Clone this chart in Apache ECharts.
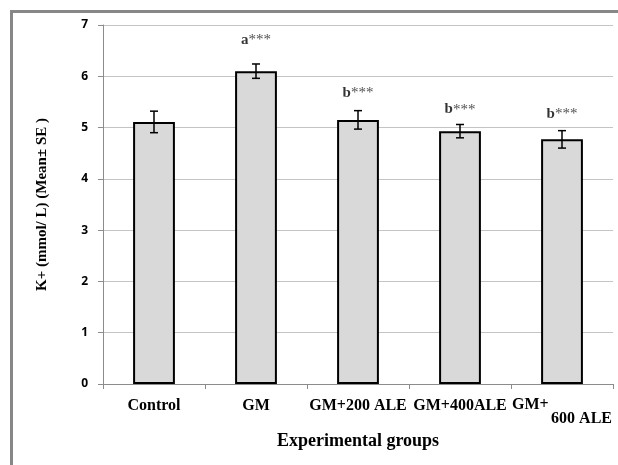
<!DOCTYPE html>
<html>
<head>
<meta charset="utf-8">
<script src="https://cdn.jsdelivr.net/npm/echarts@6/dist/echarts.min.js"></script>
<style>
html,body{margin:0;padding:0;background:#fff;}
#chart{width:618px;height:465px;}
</style>
</head>
<body>
<div id="chart"></div>
<script>
var categories = ['Control', 'GM', 'GM+200 ALE', 'GM+400ALE', 'GM+\n600 ALE'];
var meanValues = [5.11, 6.10, 5.15, 4.93, 4.77];
var seValues = [0.21, 0.14, 0.18, 0.13, 0.17];
var annotationLetter = ['', 'a', 'b', 'b', 'b'];
var annotationStars = ['', '***', '***', '***', '***'];
var annotationY = [null, 6.71, 5.68, 5.35, 5.27];
var yTicks = [0, 1, 2, 3, 4, 5, 6, 7];

var chart = echarts.init(document.getElementById('chart'), null, {renderer: 'canvas'});
var serif = '"Liberation Serif", "Times New Roman", serif';

var option = {
  animation: false,
  backgroundColor: '#ffffff',
  graphic: [{
    type: 'rect',
    shape: {x: 11.5, y: 11.5, width: 700, height: 600},
    style: {fill: 'none', stroke: '#878787', lineWidth: 3},
    silent: true,
    z: -10
  }],
  grid: {left: 103, right: 5, top: 25, bottom: 81},
  xAxis: {
    type: 'category',
    data: categories,
    boundaryGap: true,
    axisLine: {show: true, lineStyle: {color: '#8c8c8c', width: 1}},
    axisTick: {show: true, length: 5, lineStyle: {color: '#8c8c8c'}},
    axisLabel: {
      interval: 0,
      margin: 14,
      color: '#000',
      fontFamily: serif,
      fontWeight: 'bold',
      fontSize: 16,
      lineHeight: 16,
      formatter: function (v) {
        if (v.indexOf('\n') >= 0) {
          var parts = v.split('\n');
          return '{l1|' + parts[0] + '}\n{l2|' + parts[1] + '}';
        }
        return v;
      },
      rich: {
        l1: {width: 100, align: 'left', fontFamily: serif, fontWeight: 'bold', fontSize: 16, lineHeight: 14, color: '#000'},
        l2: {width: 100, align: 'right', fontFamily: serif, fontWeight: 'bold', fontSize: 16, lineHeight: 14, color: '#000'}
      }
    },
    name: 'Experimental groups',
    nameLocation: 'middle',
    nameGap: 47,
    nameTextStyle: {fontFamily: serif, fontWeight: 'bold', fontSize: 18, color: '#000'}
  },
  yAxis: {
    type: 'value',
    min: yTicks[0],
    max: yTicks[yTicks.length - 1],
    interval: 1,
    axisLine: {show: true, lineStyle: {color: '#8c8c8c', width: 1}},
    axisTick: {show: true, length: 5, lineStyle: {color: '#8c8c8c'}},
    splitLine: {show: true, lineStyle: {color: '#c4c4c4', width: 1}},
    axisLabel: {
      margin: 15,
      color: '#000',
      fontFamily: '"Open Sans", "Liberation Sans", sans-serif',
      fontWeight: 'bold',
      fontSize: 12
    },
    name: 'K+ (mmol/ L) (Mean\u00b1 SE )',
    nameLocation: 'middle',
    nameRotate: 90,
    nameGap: 53,
    nameTextStyle: {fontFamily: serif, fontWeight: 'bold', fontSize: 15, color: '#000'}
  },
  series: [
    {
      type: 'bar',
      data: meanValues,
      barWidth: '41%',
      itemStyle: {color: '#d9d9d9', borderColor: '#000', borderWidth: 2},
      z: 2
    },
    {
      type: 'custom',
      data: meanValues.map(function (m, i) { return [i, m - seValues[i], m + seValues[i]]; }),
      renderItem: function (params, api) {
        var x = api.value(0);
        var lo = api.coord([x, api.value(1)]);
        var hi = api.coord([x, api.value(2)]);
        var hw = 4;
        var st = {stroke: '#000', lineWidth: 1.5, fill: 'none'};
        return {
          type: 'group',
          children: [
            {type: 'line', shape: {x1: lo[0], y1: lo[1], x2: hi[0], y2: hi[1]}, style: st},
            {type: 'line', shape: {x1: lo[0] - hw, y1: lo[1], x2: lo[0] + hw, y2: lo[1]}, style: st},
            {type: 'line', shape: {x1: hi[0] - hw, y1: hi[1], x2: hi[0] + hw, y2: hi[1]}, style: st}
          ]
        };
      },
      z: 5
    },
    {
      type: 'scatter',
      data: annotationY,
      symbolSize: 0,
      label: {
        show: true,
        position: 'inside',
        formatter: function (p) {
          return '{l|' + annotationLetter[p.dataIndex] + '}{s|' + annotationStars[p.dataIndex] + '}';
        },
        rich: {
          l: {fontFamily: serif, fontWeight: 'bold', fontSize: 15, color: '#000'},
          s: {fontFamily: serif, fontWeight: 'normal', fontSize: 15, color: '#222'}
        }
      },
      z: 6
    }
  ]
};
chart.setOption(option);
</script>
</body>
</html>
